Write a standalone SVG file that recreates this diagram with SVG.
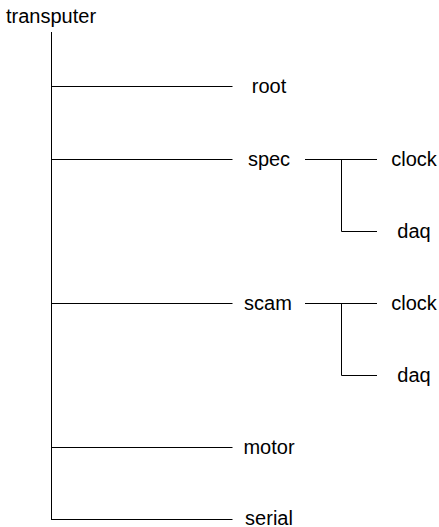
<svg xmlns="http://www.w3.org/2000/svg" width="439" height="527" viewBox="0 0 439 527">
<style>
text{font-family:"Liberation Sans",Arial,sans-serif;font-size:20px;fill:#000}
.c{text-anchor:middle}
line,polyline{stroke:#000;stroke-width:1;fill:none}
</style>
<rect width="439" height="527" fill="#fff"/>
<g id="connectors">
<line x1="51.5" y1="32" x2="51.5" y2="519.5"/>
<line x1="51" y1="86.5" x2="232.5" y2="86.5"/>
<line x1="51" y1="159.5" x2="232.5" y2="159.5"/>
<line x1="51" y1="303.5" x2="232.5" y2="303.5"/>
<line x1="51" y1="447.5" x2="232.5" y2="447.5"/>
<line x1="51" y1="519.5" x2="232.5" y2="519.5"/>
<line x1="305" y1="159.5" x2="377" y2="159.5"/>
<polyline points="341.5,159.5 341.5,231.5 377,231.5"/>
<line x1="305" y1="303.5" x2="377" y2="303.5"/>
<polyline points="341.5,303.5 341.5,375.5 377,375.5"/>
</g>
<g id="transputer"><text x="6" y="23">transputer</text></g>
<g id="root"><text class="c" x="269" y="93">root</text></g>
<g id="spec"><text class="c" x="269" y="166">spec</text></g>
<g id="spec-clock"><text class="c" x="414" y="166">clock</text></g>
<g id="spec-daq"><text class="c" x="414" y="238">daq</text></g>
<g id="scam"><text class="c" x="268" y="310">scam</text></g>
<g id="scam-clock"><text class="c" x="414" y="310">clock</text></g>
<g id="scam-daq"><text class="c" x="414" y="382">daq</text></g>
<g id="motor"><text class="c" x="269" y="454">motor</text></g>
<g id="serial"><text class="c" x="269" y="525">serial</text></g>
</svg>
